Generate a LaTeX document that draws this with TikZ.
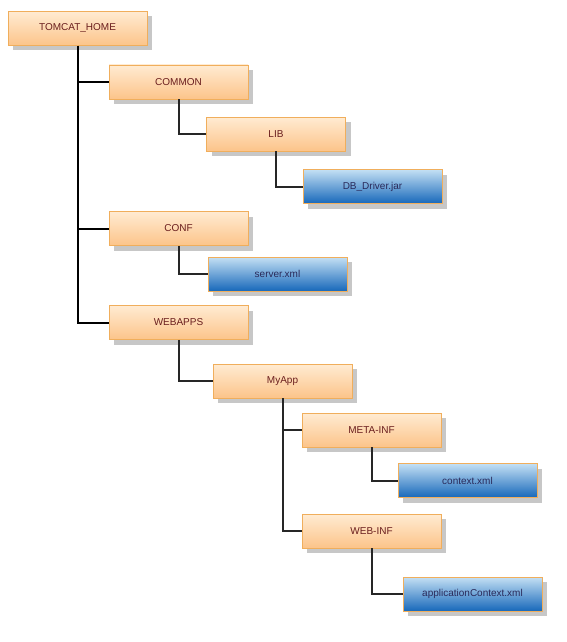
\documentclass[tikz,border=0pt]{standalone}
\usepackage{fontspec}
\setmainfont{Liberation Sans}
\usetikzlibrary{shadows}
\definecolor{dirtop}{HTML}{FFEBD2}
\definecolor{dirbot}{HTML}{FCC48A}
\definecolor{dirline}{HTML}{F0AE5C}
\definecolor{dirtext}{HTML}{6A1E1E}
\definecolor{filetop}{HTML}{C4E0F4}
\definecolor{filebot}{HTML}{1768BA}
\definecolor{filetext}{HTML}{2A2A5A}
\tikzset{
  folder/.style={draw=dirline,line width=0.9pt,top color=dirtop,bottom color=dirbot,
    text=dirtext,minimum width=139pt,minimum height=34pt,inner sep=0pt,
    drop shadow={shadow xshift=5pt,shadow yshift=-5pt,fill=black!22,opacity=1}},
  jarfile/.style={folder,top color=filetop,bottom color=filebot,text=filetext},
  branch/.style={line width=2pt,black!85},
  trunk/.style={branch,line width=2pt,black}
}
\begin{document}
\begin{tikzpicture}[x=1pt,y=-1pt,every node/.style={font=\fontsize{10}{12}\selectfont}]
  \useasboundingbox (0,0) rectangle (566,642);
  % directories and files
  \node[folder] (home) at (77.5,28.5) {TOMCAT\_HOME};
  \node[folder] (common) at (178.5,82) {COMMON};
  \node[folder] (lib) at (276,134) {LIB};
  \node[jarfile] (driver) at (372.5,186.5) {DB\_Driver.jar};
  \node[folder] (conf) at (178.5,228.5) {CONF};
  \node[jarfile] (server) at (277.5,274) {server.xml};
  \node[folder] (webapps) at (178.5,322.5) {WEBAPPS};
  \node[folder] (myapp) at (282.5,381) {MyApp};
  \node[folder] (metainf) at (371.5,430) {META-INF};
  \node[jarfile] (context) at (467.5,480.5) {context.xml};
  \node[folder] (webinf) at (371.5,531) {WEB-INF};
  \node[jarfile] (appctx) at (472.5,594) {applicationContext.xml};
  % tree branches
  \draw[trunk] (home) |- (common); \draw[trunk] (home) |- (conf); \draw[trunk] (home) |- (webapps);
  \draw[branch] (common) |- (lib); \draw[branch] (lib) |- (driver);
  \draw[branch] (conf) |- (server);
  \draw[branch] (webapps) |- (myapp);
  \draw[branch] (myapp) |- (metainf); \draw[branch] (myapp) |- (webinf);
  \draw[branch] (metainf) |- (context); \draw[branch] (webinf) |- (appctx);
\end{tikzpicture}
\end{document}
